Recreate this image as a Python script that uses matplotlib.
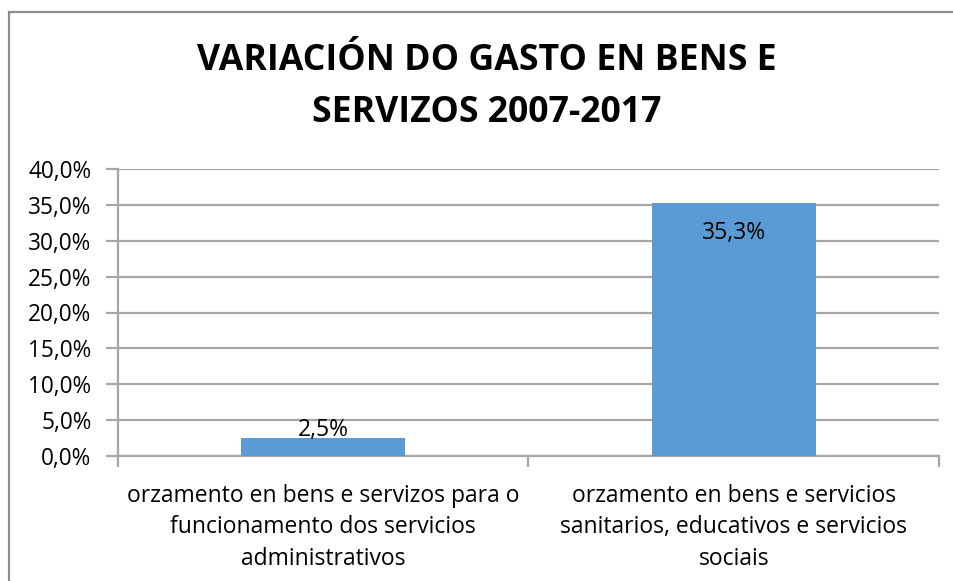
import matplotlib
matplotlib.use("Agg")
import matplotlib.pyplot as plt
from matplotlib.patches import Rectangle
from matplotlib.ticker import FuncFormatter, FixedLocator

title = "VARIACIÓN DO GASTO EN BENS E\nSERVIZOS 2007-2017"
categories = [
    "orzamento en bens e servizos para o\nfuncionamento dos servicios\nadministrativos",
    "orzamento en bens e servicios\nsanitarios, educativos e servicios\nsociais",
]
values = [2.5, 35.3]
value_labels = ["2,5%", "35,3%"]
y_ticks = [0, 5, 10, 15, 20, 25, 30, 35, 40]

W, H = 954, 581
fig = plt.figure(figsize=(W / 100, H / 100), dpi=100)
fig.patch.set_facecolor("white")

font = "Open Sans"
fs = 16.5

# chart border (extends past right/bottom edges)
fig.patches.append(Rectangle((9 / W, -0.1), 1.2, 1 - 12 / H + 0.1, transform=fig.transFigure,
                             fill=False, edgecolor="#8c8c8c", linewidth=1.6, zorder=0))

ax = fig.add_axes([118 / W, 1 - 456 / H, (939 - 118) / W, (456 - 169) / H])
x = list(range(len(values)))
bars = ax.bar(x, values, width=0.4, color="#5B9BD5", zorder=3)
ax.set_xlim(-0.5, len(values) - 0.5)
ax.set_ylim(0, 40)

ax.set_yticks(y_ticks)
ax.yaxis.set_major_formatter(FuncFormatter(lambda v, p: f"{v:.1f}%".replace(".", ",")))
ax.grid(axis="y", color="#a6a6a6", linewidth=1.6, zorder=0)
for s in ["top", "right"]:
    ax.spines[s].set_visible(False)
ax.spines["left"].set_color("#a6a6a6")
ax.spines["left"].set_linewidth(1.6)
ax.spines["bottom"].set_color("#a6a6a6")
ax.spines["bottom"].set_linewidth(1.6)
ax.tick_params(axis="y", length=9, width=1.6, color="#a6a6a6", labelsize=16.3, pad=10)
for t in ax.get_yticklabels():
    t.set_fontfamily(font)

ax.set_xticks(x)
ax.set_xticklabels(categories, fontsize=fs, fontfamily=font, linespacing=1.41)
ax.tick_params(axis="x", which="major", length=0, pad=20)
ax.xaxis.set_minor_locator(FixedLocator([-0.5, 0.5, 1.5]))
ax.tick_params(axis="x", which="minor", length=8, width=1.6, color="#a6a6a6")

# value labels
ax.text(x[0], 3.6, value_labels[0], ha="center", va="center",
        fontsize=fs, fontfamily=font, zorder=4)
ax.text(x[1], 31.1, value_labels[1], ha="center", va="center",
        fontsize=fs, fontfamily=font, zorder=4)

fig.text(487 / W, 1 - 87 / H, title, ha="center", va="center", fontsize=25.7,
         fontweight="bold", fontfamily=font, linespacing=1.62)

fig.savefig("out.png", dpi=100)
